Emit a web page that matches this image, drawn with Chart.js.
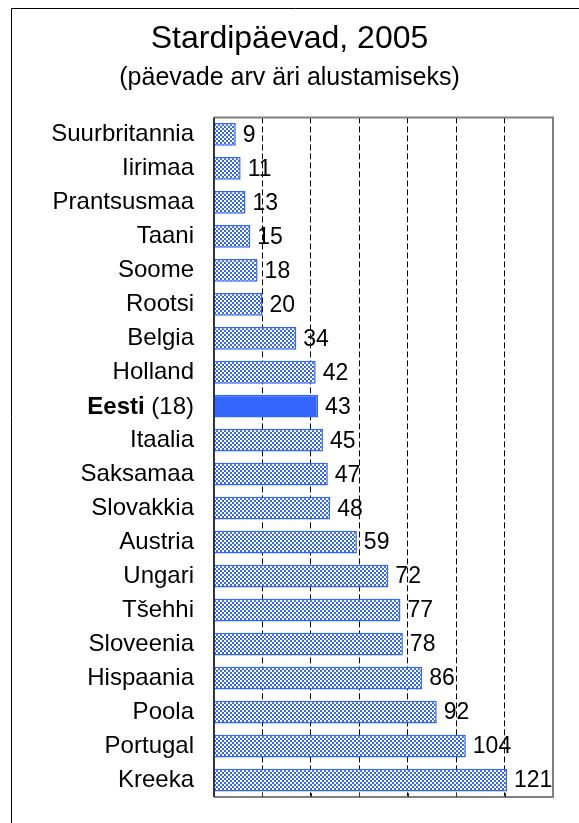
<!DOCTYPE html>
<html>
<head>
<meta charset="utf-8">
<script src="https://cdn.jsdelivr.net/npm/chart.js@4.4.0/dist/chart.umd.min.js"></script>
<style>
  html, body { margin: 0; padding: 0; background: #fff; }
  #wrap { width: 579px; height: 823px; }
</style>
</head>
<body>
<div id="wrap"><canvas id="mycanvas" width="579" height="823"></canvas></div>
<script>
var countries = ["Suurbritannia", "Iirimaa", "Prantsusmaa", "Taani", "Soome", "Rootsi", "Belgia", "Holland",
  "Eesti (18)", "Itaalia", "Saksamaa", "Slovakkia", "Austria", "Ungari", "Tšehhi", "Sloveenia",
  "Hispaania", "Poola", "Portugal", "Kreeka"];
var days = [9, 11, 13, 15, 18, 20, 34, 42, 43, 45, 47, 48, 59, 72, 77, 78, 86, 92, 104, 121];
var highlight = "Eesti (18)";

var FONT = "'Liberation Sans', Arial, sans-serif";
var BLUE = "#3366ff";

// checkered fill like the original
function checker() {
  var c = document.createElement("canvas");
  c.width = 4; c.height = 4;
  var g = c.getContext("2d");
  g.fillStyle = BLUE;
  g.fillRect(0, 0, 4, 4);
  g.fillStyle = "#ffffff";
  g.fillRect(0, 0, 2, 2);
  g.fillRect(2, 2, 2, 2);
  return g.createPattern(c, "repeat");
}
var pat = checker();

var fills = [];
for (var i in countries) {
  fills.push(countries[i] == highlight ? BLUE : pat);
}

var extras = {
  id: "extras",
  afterDraw: function(chart) {
    var ctx = chart.ctx;
    var a = chart.chartArea;
    var y = chart.scales.y;
    var x = chart.scales.x;
    ctx.save();
    // outer frame
    ctx.strokeStyle = "#000";
    ctx.lineWidth = 1;
    ctx.beginPath();
    ctx.moveTo(11.5, 830);
    ctx.lineTo(11.5, 8.5);
    ctx.lineTo(590, 8.5);
    ctx.stroke();
    // plot border
    ctx.strokeStyle = "#808080";
    ctx.lineWidth = 2;
    ctx.beginPath();
    ctx.moveTo(a.left, a.top);
    ctx.lineTo(a.right, a.top);
    ctx.lineTo(a.right, a.bottom);
    ctx.lineTo(a.left, a.bottom);
    ctx.stroke();
    ctx.strokeStyle = "#333";
    ctx.beginPath();
    ctx.moveTo(a.left, a.top);
    ctx.lineTo(a.left, a.bottom);
    ctx.stroke();
    // small ticks on bottom axis
    ctx.strokeStyle = "#333";
    ctx.lineWidth = 1;
    for (var v = 20; v < 140; v += 20) {
      var px = Math.round(x.getPixelForValue(v)) + 0.5;
      ctx.beginPath();
      ctx.moveTo(px, a.bottom);
      ctx.lineTo(px, a.bottom - 4);
      ctx.stroke();
    }
    // value labels
    var meta = chart.getDatasetMeta(0);
    ctx.fillStyle = "#000";
    ctx.font = "23px " + FONT;
    ctx.textBaseline = "middle";
    ctx.textAlign = "left";
    meta.data.forEach(function(bar, i) {
      ctx.fillText(String(days[i]), bar.x + 7, bar.y + 1);
    });
    // highlighted category label: bold name + normal rank
    var idx = countries.indexOf(highlight);
    var parts = highlight.split(" ");
    var ty = y.getPixelForValue(idx) + 1;
    var right = a.left - 20;
    ctx.textAlign = "right";
    ctx.font = "24px " + FONT;
    var rest = " " + parts.slice(1).join(" ");
    ctx.fillText(rest, right, ty);
    var w = ctx.measureText(rest).width;
    ctx.font = "bold 24px " + FONT;
    ctx.fillText(parts[0], right - w, ty);
    ctx.restore();
  }
};

var chartdata = {
  labels: countries,
  datasets: [
    {
      label: "päevi",
      data: days,
      backgroundColor: fills,
      borderColor: BLUE,
      borderWidth: 1.5,
      borderSkipped: "start",
      barPercentage: 0.67,
      categoryPercentage: 1.0
    }
  ]
};

var ctx = document.getElementById("mycanvas");

var BarGraph = new Chart(ctx, {
  type: "bar",
  data: chartdata,
  plugins: [extras],
  options: {
    indexAxis: "y",
    responsive: false,
    animation: false,
    layout: { padding: 0 },
    plugins: {
      legend: { display: false },
      tooltip: { enabled: false },
      title: {
        display: true,
        text: "Stardipäevad, 2005",
        color: "#000",
        font: { family: FONT, size: 32, weight: "normal" },
        padding: { top: 20, bottom: 2 }
      },
      subtitle: {
        display: true,
        text: "(päevade arv äri alustamiseks)",
        color: "#000",
        font: { family: FONT, size: 25, weight: "normal" },
        padding: { top: 3, bottom: 24 }
      }
    },
    scales: {
      x: {
        min: 0,
        max: 140,
        ticks: { display: false, stepSize: 20 },
        border: { display: false, dash: [6, 3] },
        grid: {
          color: function(c) { return (c.tick && (c.tick.value == 0 || c.tick.value == 140)) ? "rgba(0,0,0,0)" : "#000"; },
          lineWidth: 1,
          drawTicks: false
        },
        afterFit: function(s) { s.height = 26; }
      },
      y: {
        border: { display: false },
        grid: { display: false, drawTicks: false },
        ticks: {
          color: function(c) { return countries[c.index] == highlight ? "rgba(0,0,0,0)" : "#000"; },
          font: { family: FONT, size: 24 },
          padding: 20,
          autoSkip: false
        },
        afterFit: function(s) {
          s.width = 214;
          s.paddingTop = 0;
          s.paddingBottom = 0;
        }
      },
      // empty right-hand axis, only reserves the margin right of the plot
      yRight: {
        position: "right",
        display: true,
        ticks: { display: false },
        grid: { display: false, drawTicks: false },
        border: { display: false },
        afterFit: function(s) { s.width = 26; s.paddingTop = 0; s.paddingBottom = 0; }
      }
    }
  }
});
</script>
</body>
</html>
